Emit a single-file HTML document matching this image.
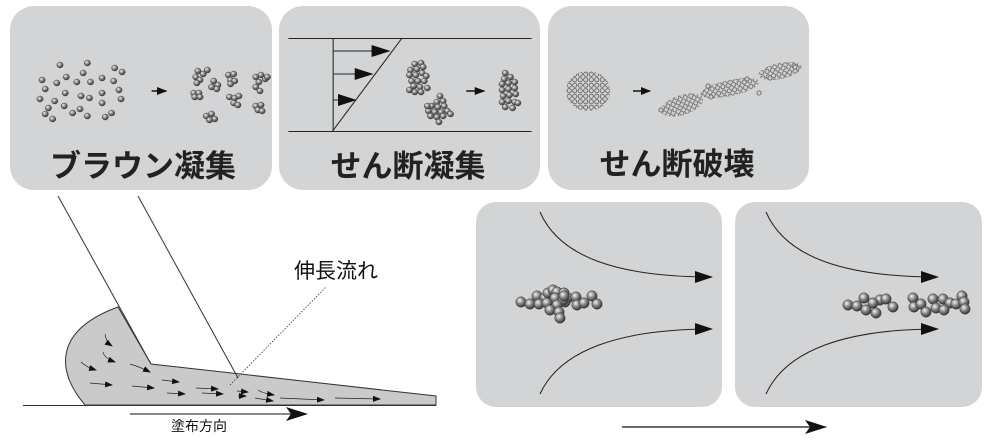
<!DOCTYPE html>
<html><head><meta charset="utf-8"><style>
html,body{margin:0;padding:0;background:#fff;}
svg{display:block;}
text{font-family:"Liberation Sans","Noto Sans CJK JP",sans-serif;}
</style></head><body>
<svg width="1000" height="442" viewBox="0 0 1000 442" xmlns="http://www.w3.org/2000/svg">
<defs>
<radialGradient id="b" cx="0.38" cy="0.35" r="0.7">
<stop offset="0" stop-color="#f4f4f4"/><stop offset="0.45" stop-color="#8a8a8a"/><stop offset="1" stop-color="#2a2a2a"/>
</radialGradient>
<circle id="s" r="3" fill="url(#b)" stroke="#333" stroke-width="0.4"/>
<circle id="L" r="5.2" fill="url(#b)" stroke="#333" stroke-width="0.5"/>
<pattern id="hc" width="5.5" height="5.5" patternUnits="userSpaceOnUse">
<circle cx="2.75" cy="2.75" r="2.1" fill="#d0d0d0" stroke="#555" stroke-width="0.8"/>
</pattern>
<marker id="ah" markerWidth="10" markerHeight="8" refX="9" refY="4" orient="auto" markerUnits="userSpaceOnUse"><path d="M0,0 L10,4 L0,8 Z" fill="#111"/></marker>
<marker id="as" markerWidth="8" markerHeight="6" refX="7" refY="3" orient="auto" markerUnits="userSpaceOnUse"><path d="M0,0 L8,3 L0,6 Z" fill="#111"/></marker>
<marker id="ab" markerWidth="22" markerHeight="14" refX="21" refY="7" orient="auto" markerUnits="userSpaceOnUse"><path d="M0,0 L22,7 L0,14 L5,7 Z" fill="#111"/></marker>
<marker id="am" markerWidth="18" markerHeight="12" refX="17" refY="6" orient="auto" markerUnits="userSpaceOnUse"><path d="M0,0 L18,6 L0,12 Z" fill="#111"/></marker>
</defs>

<!-- top panels -->
<rect x="10" y="6" width="262" height="184" rx="24" fill="#d3d4d6"/>
<rect x="279" y="6" width="261" height="184" rx="24" fill="#d3d4d6"/>
<rect x="548" y="6" width="261" height="184" rx="24" fill="#d3d4d6"/>

<g transform="scale(1.0526,1)">
<!-- panel1 dispersed -->
<g>
<use href="#s" x="57" y="65"/><use href="#s" x="83" y="63"/><use href="#s" x="40" y="80"/><use href="#s" x="54" y="83"/><use href="#s" x="63" y="77"/><use href="#s" x="73" y="82"/><use href="#s" x="79" y="73"/><use href="#s" x="86" y="82"/><use href="#s" x="97" y="78"/><use href="#s" x="109" y="68"/><use href="#s" x="116" y="72"/><use href="#s" x="108" y="81"/><use href="#s" x="43" y="89"/><use href="#s" x="62" y="93"/><use href="#s" x="77" y="96"/><use href="#s" x="85" y="98"/><use href="#s" x="97" y="93"/><use href="#s" x="113" y="90"/><use href="#s" x="38" y="99"/><use href="#s" x="52" y="101"/><use href="#s" x="61" y="106"/><use href="#s" x="76" y="109"/><use href="#s" x="97" y="103"/><use href="#s" x="115" y="99"/><use href="#s" x="46" y="108"/><use href="#s" x="43" y="114"/><use href="#s" x="69" y="113"/><use href="#s" x="83" y="116"/><use href="#s" x="50" y="119"/><use href="#s" x="100" y="117"/><use href="#s" x="106" y="113"/>
</g>
<line x1="144" y1="91" x2="158" y2="91" stroke="#111" stroke-width="1.5" marker-end="url(#ah)"/>
<g>
<use href="#s" x="188" y="71"/><use href="#s" x="193" y="74"/><use href="#s" x="197" y="70"/><use href="#s" x="186" y="77"/><use href="#s" x="190" y="80"/><use href="#s" x="187" y="83"/>
<use href="#s" x="203" y="81"/><use href="#s" x="207" y="85"/><use href="#s" x="201" y="87"/><use href="#s" x="206" y="89"/>
<use href="#s" x="217" y="75"/><use href="#s" x="222" y="74"/><use href="#s" x="219" y="80"/><use href="#s" x="223" y="81"/><use href="#s" x="219" y="84"/>
<use href="#s" x="243" y="77"/><use href="#s" x="248" y="75"/><use href="#s" x="252" y="79"/><use href="#s" x="246" y="82"/><use href="#s" x="243" y="87"/><use href="#s" x="247" y="91"/><use href="#s" x="254" y="77"/>
<use href="#s" x="184" y="93"/><use href="#s" x="189" y="93"/><use href="#s" x="185" y="97"/><use href="#s" x="190" y="97"/>
<use href="#s" x="218" y="97"/><use href="#s" x="223" y="98"/><use href="#s" x="227" y="96"/><use href="#s" x="222" y="103"/><use href="#s" x="226" y="105"/>
<use href="#s" x="243" y="106"/><use href="#s" x="248" y="105"/><use href="#s" x="245" y="110"/><use href="#s" x="249" y="111"/>
<use href="#s" x="196" y="116"/><use href="#s" x="201" y="114"/><use href="#s" x="204" y="119"/><use href="#s" x="199" y="120"/>
</g>

<!-- panel2 shear -->
<line x1="274" y1="38.5" x2="505" y2="38.5" stroke="#222" stroke-width="1"/>
<line x1="274" y1="131.5" x2="505" y2="131.5" stroke="#222" stroke-width="1"/>
<line x1="316.5" y1="38" x2="316.5" y2="132" stroke="#222" stroke-width="1"/>
<line x1="316" y1="131" x2="382" y2="38" stroke="#222" stroke-width="1"/>
<line x1="317" y1="51" x2="370" y2="51" stroke="#222" stroke-width="1" marker-end="url(#am)"/>
<line x1="317" y1="74" x2="354" y2="74" stroke="#222" stroke-width="1" marker-end="url(#am)"/>
<line x1="317" y1="100" x2="338" y2="100" stroke="#222" stroke-width="1" marker-end="url(#am)"/>
<g>
<use href="#s" x="394" y="64"/><use href="#s" x="400" y="63"/><use href="#s" x="402" y="67"/><use href="#s" x="390" y="70"/><use href="#s" x="396" y="69"/><use href="#s" x="389" y="75"/><use href="#s" x="395" y="75"/><use href="#s" x="401" y="73"/><use href="#s" x="405" y="76"/><use href="#s" x="391" y="81"/><use href="#s" x="397" y="81"/><use href="#s" x="403" y="81"/><use href="#s" x="393" y="86"/><use href="#s" x="399" y="87"/><use href="#s" x="394" y="92"/><use href="#s" x="400" y="92"/><use href="#s" x="406" y="88"/><use href="#s" x="389" y="90"/>
<use href="#s" x="418" y="96"/><use href="#s" x="415" y="102"/><use href="#s" x="421" y="101"/><use href="#s" x="410" y="106"/><use href="#s" x="416" y="107"/><use href="#s" x="422" y="106"/><use href="#s" x="407" y="111"/><use href="#s" x="413" y="112"/><use href="#s" x="419" y="112"/><use href="#s" x="425" y="111"/><use href="#s" x="409" y="116"/><use href="#s" x="415" y="117"/><use href="#s" x="421" y="116"/><use href="#s" x="428" y="114"/><use href="#s" x="406" y="106"/><use href="#s" x="417" y="122"/>
</g>
<line x1="443" y1="91" x2="460" y2="91" stroke="#111" stroke-width="1.5" marker-end="url(#ah)"/>
<g>
<use href="#s" x="480" y="73"/><use href="#s" x="485" y="77"/><use href="#s" x="479" y="79"/><use href="#s" x="477" y="84"/><use href="#s" x="483" y="83"/><use href="#s" x="489" y="82"/><use href="#s" x="477" y="90"/><use href="#s" x="483" y="89"/><use href="#s" x="489" y="88"/><use href="#s" x="478" y="96"/><use href="#s" x="484" y="95"/><use href="#s" x="490" y="94"/><use href="#s" x="477" y="102"/><use href="#s" x="483" y="101"/><use href="#s" x="489" y="102"/><use href="#s" x="480" y="107"/><use href="#s" x="487" y="108"/><use href="#s" x="492" y="103"/>
</g>
</g>
<text x="143" y="177" font-size="31" font-weight="bold" text-anchor="middle" fill="#222">ブラウン凝集</text>
<text x="408" y="177" font-size="31" font-weight="bold" text-anchor="middle" fill="#222">せん断凝集</text>

<!-- panel3 -->
<ellipse cx="588" cy="91" rx="22" ry="20" fill="url(#hc)"/>
<line x1="633" y1="91" x2="650" y2="91" stroke="#111" stroke-width="1.5" marker-end="url(#ah)"/>
<ellipse cx="682" cy="105" rx="22" ry="10" transform="rotate(-18 682 105)" fill="url(#hc)"/>
<ellipse cx="730" cy="88" rx="30" ry="8" transform="rotate(-12 730 88)" fill="url(#hc)"/>
<ellipse cx="780" cy="71" rx="22" ry="8" transform="rotate(-12 780 71)" fill="url(#hc)"/>
<g fill="#d0d0d0" stroke="#555" stroke-width="0.8">
<circle cx="661" cy="110" r="2.1"/><circle cx="708" cy="86" r="2.1"/><circle cx="711" cy="97" r="2.1"/><circle cx="747" cy="79" r="2.1"/><circle cx="759" cy="93" r="2.1"/><circle cx="770" cy="78" r="2.1"/><circle cx="795" cy="67" r="2.1"/>
</g>
<text x="677" y="175" font-size="31" font-weight="bold" text-anchor="middle" fill="#222">せん断破壊</text>

<!-- coating diagram -->
<path d="M118,307 L151,364 L436,396 L436,405 L85,405 C55,370 55,330 118,307 Z" fill="#cacaca" stroke="#333" stroke-width="1"/>
<line x1="58" y1="196" x2="151" y2="364" stroke="#333" stroke-width="1"/>
<line x1="138" y1="196" x2="238" y2="378" stroke="#333" stroke-width="1"/>
<line x1="23" y1="405.5" x2="436" y2="405.5" stroke="#333" stroke-width="1"/>
<line x1="230" y1="385" x2="326" y2="287" stroke="#333" stroke-width="0.8" stroke-dasharray="1.5,1.5"/>
<text x="336" y="278" font-size="21" text-anchor="middle" fill="#111">伸長流れ</text>
<g stroke="#222" stroke-width="0.7" fill="none" marker-end="url(#as)">
<path d="M105,334 Q106,342 112,346"/><path d="M103,352 Q104,358 115,362"/><path d="M81,362 Q86,367 96,370"/><path d="M130,364 Q140,367 150,372"/>
<path d="M90,383 L112,385"/><path d="M132,386 L154,388"/><path d="M162,380 L179,382"/><path d="M167,393 L185,394"/><path d="M196,388 L218,389"/><path d="M202,393 L223,394"/><path d="M237,391 L248,392"/><path d="M238,396 L246,396"/><path d="M255,398 L273,401"/><path d="M258,390 Q262,393 274,395"/><path d="M280,398 Q300,399 324,400"/><path d="M335,398 L380,399"/>
</g>
<line x1="130" y1="414" x2="307" y2="414" stroke="#111" stroke-width="1" marker-end="url(#ab)"/>
<text x="199" y="431" font-size="14" text-anchor="middle" fill="#111">塗布方向</text>

<!-- bottom panels -->
<rect x="476" y="202" width="246" height="205" rx="20" fill="#d3d4d6"/>
<rect x="735" y="202" width="247" height="205" rx="20" fill="#d3d4d6"/>
<g stroke="#222" stroke-width="1" fill="none" marker-end="url(#am)">
<path d="M540,212 C560,258 620,277 712,277"/>
<path d="M540,394 C560,350 620,329 712,329"/>
<path d="M766,212 C786,258 846,277 938,277"/>
<path d="M766,394 C786,350 846,329 938,329"/>
</g>
<g>
<use href="#L" x="521" y="302"/><use href="#L" x="530" y="304"/><use href="#L" x="537" y="296"/><use href="#L" x="545" y="298"/><use href="#L" x="548" y="293"/><use href="#L" x="539" y="304"/><use href="#L" x="553" y="290"/><use href="#L" x="557" y="292"/><use href="#L" x="564" y="293"/><use href="#L" x="555" y="298"/><use href="#L" x="568" y="298"/><use href="#L" x="547" y="303"/><use href="#L" x="565" y="302"/><use href="#L" x="563" y="300"/><use href="#L" x="557" y="305"/><use href="#L" x="550" y="310"/><use href="#L" x="576" y="297"/><use href="#L" x="577" y="305"/><use href="#L" x="559" y="312"/><use href="#L" x="584" y="303"/><use href="#L" x="592" y="296"/><use href="#L" x="597" y="304"/><use href="#L" x="560" y="318"/><use href="#L" x="564" y="296"/>
</g>
<g>
<use href="#L" x="848" y="305"/><use href="#L" x="857" y="306"/><use href="#L" x="864" y="298"/><use href="#L" x="880" y="300"/><use href="#L" x="873" y="303"/><use href="#L" x="866" y="310"/><use href="#L" x="886" y="299"/><use href="#L" x="876" y="313"/><use href="#L" x="893" y="307"/>
<use href="#L" x="913" y="298"/><use href="#L" x="914" y="307"/><use href="#L" x="921" y="304"/><use href="#L" x="933" y="299"/><use href="#L" x="926" y="312"/><use href="#L" x="943" y="299"/><use href="#L" x="936" y="308"/><use href="#L" x="950" y="303"/><use href="#L" x="944" y="310"/><use href="#L" x="956" y="304"/><use href="#L" x="962" y="296"/><use href="#L" x="964" y="302"/><use href="#L" x="965" y="309"/>
</g>
<line x1="622" y1="427" x2="826" y2="427" stroke="#111" stroke-width="1.2" marker-end="url(#ab)"/>
</svg>
</body></html>
